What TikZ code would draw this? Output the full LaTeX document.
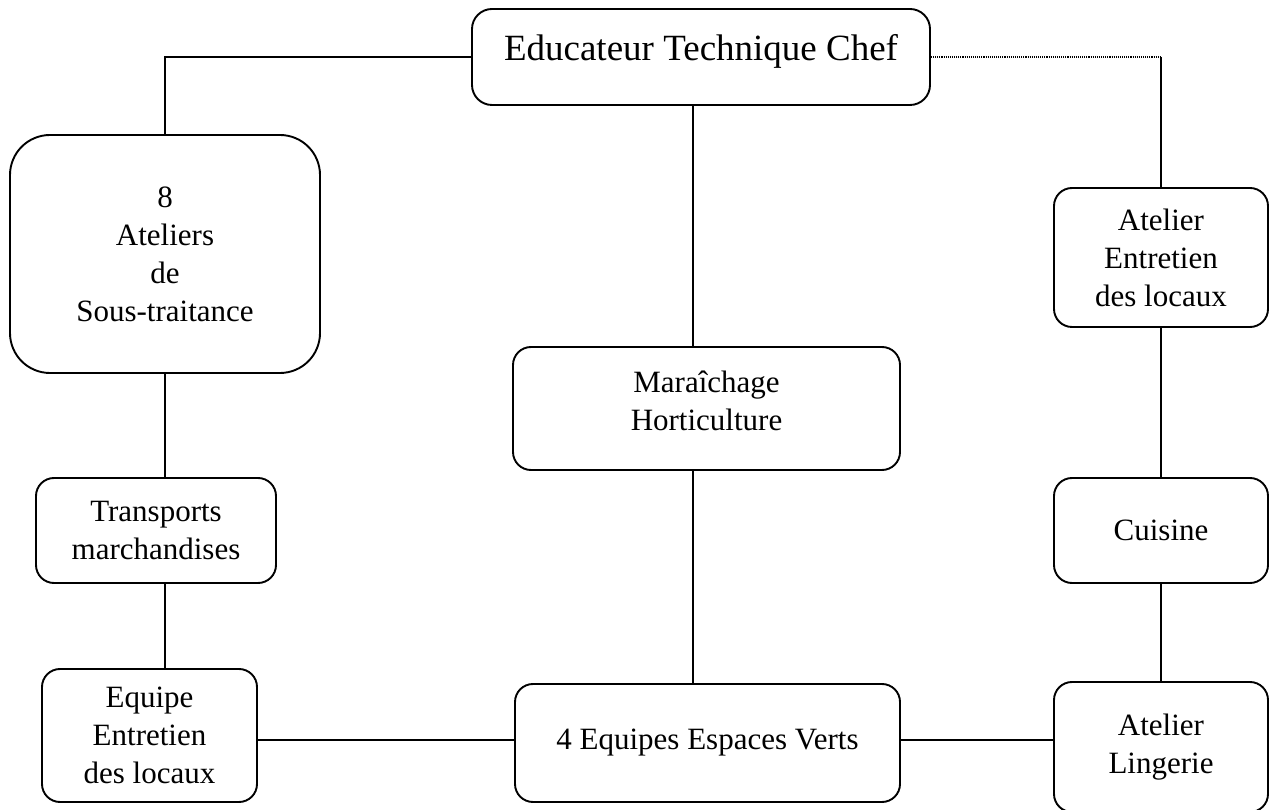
\documentclass[tikz,border=0pt]{standalone}
\usepackage{fontspec}
\setmainfont{Liberation Serif}
\usetikzlibrary{positioning,calc}

\begin{document}
\begin{tikzpicture}[x=1pt,y=1pt,
	boite/.style={draw, rounded corners=18pt, line width=1.9pt, align=center, inner sep=0pt, font=\fontsize{31}{38}\selectfont},
	lien/.style={line width=1.7pt}]
				\useasboundingbox (0,0) rectangle (1269,809);
				\node[boite, minimum width=458pt, minimum height=96pt, rounded corners=20pt, text depth=20pt, font=\fontsize{37}{44}\selectfont] (chef) at (701,752) {Educateur Technique Chef};
				\node[boite, minimum width=310pt, minimum height=238pt, rounded corners=40pt] (ateliers) at (165,555) {8\\Ateliers\\de\\Sous-traitance};
				\node[boite, minimum width=214pt, minimum height=139pt] (entretien) at (1161,551.5) {Atelier\\Entretien\\des locaux};
				\node[boite, minimum width=387pt, minimum height=123pt, text depth=16pt] (maraich) at (706.5,400.5) {Maraîchage\\Horticulture};
				\node[boite, minimum width=240pt, minimum height=105pt] (transports) at (156,278.5) {Transports\\marchandises};
				\node[boite, minimum width=214pt, minimum height=105pt] (cuisine) at (1161,278.5) {Cuisine};
				\node[boite, minimum width=215pt, minimum height=133pt] (equipe) at (149.5,73.5) {Equipe\\Entretien\\des locaux};
				\node[boite, minimum width=385pt, minimum height=118pt] (espaces) at (707.5,66) {4 Equipes Espaces Verts};
				\node[boite, minimum width=214pt, minimum height=130pt] (lingerie) at (1161,62) {Atelier\\Lingerie};
				\coordinate (coin) at (chef.east -| entretien.north);
				\draw[lien] (chef.west) -| (ateliers.north);
				\draw[line width=1.1pt, densely dotted] (chef.east) -- (coin);
				\draw[lien] (coin) -- (entretien.north);
				\draw[lien] ([xshift=-8pt]chef.south) -- ([xshift=-13.5pt]maraich.north);
				\draw[lien] ([xshift=-13.5pt]maraich.south) -- ([xshift=-14.5pt]espaces.north);
				\draw[lien] (ateliers.south) -- (ateliers.south |- transports.north);
				\draw[lien] (transports.south -| ateliers.south) -- (ateliers.south |- equipe.north);
				\draw[lien, line width=2.2pt] ([yshift=3pt]espaces.west) -- ([yshift=3pt]espaces.west -| equipe.east);
				\draw[lien, line width=2.2pt] ([yshift=3pt]espaces.east) -- ([yshift=3pt]espaces.east -| lingerie.west);
				\draw[lien] (entretien.south) -- (cuisine.north);
				\draw[lien] (cuisine.south) -- (lingerie.north);
\end{tikzpicture}
\end{document}
